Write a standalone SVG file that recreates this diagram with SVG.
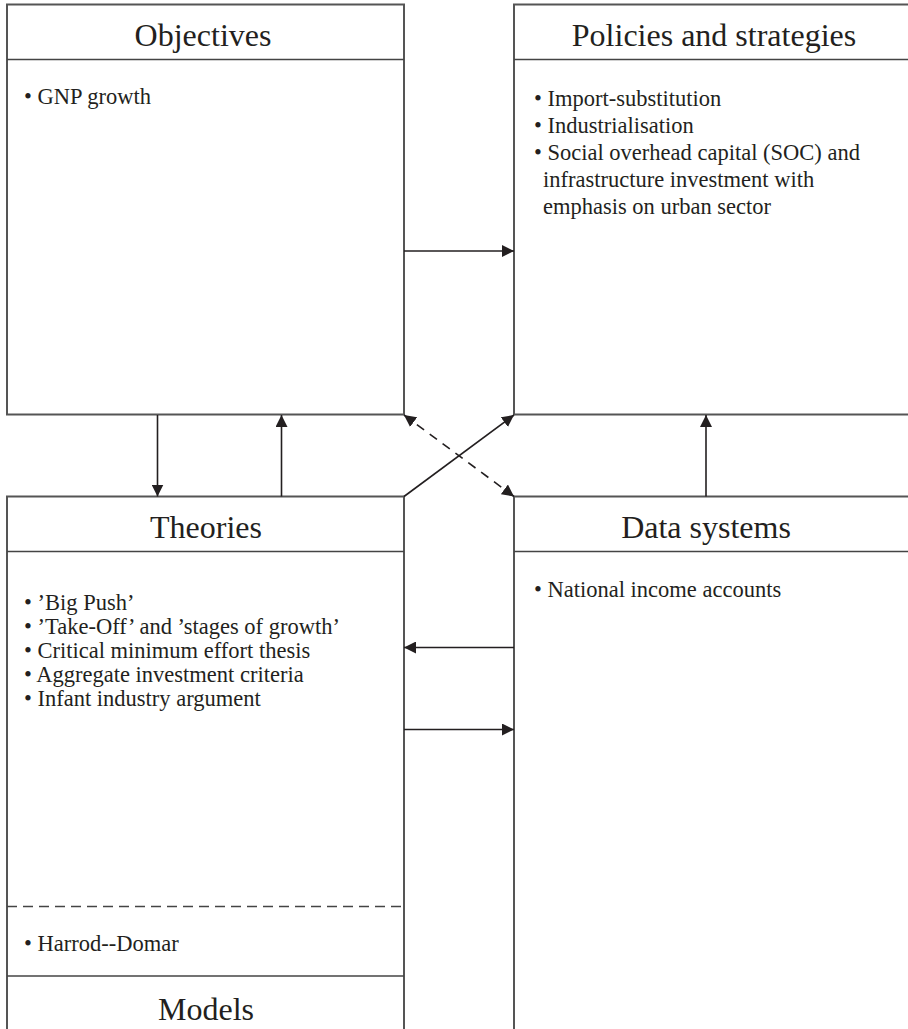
<svg xmlns="http://www.w3.org/2000/svg" width="908" height="1029" viewBox="0 0 908 1029">
  <style>
    .box { fill: none; stroke: #555; stroke-width: 2; }
    .rule { stroke: #444; stroke-width: 1.6; fill: none; }
    .dash { stroke: #444; stroke-width: 1.6; stroke-dasharray: 10 6; fill: none; }
    .title { font-family: "Liberation Serif", "Times New Roman", Times, serif; font-size: 32px; fill: #231f20; text-anchor: middle; }
    .item { font-family: "Liberation Serif", "Times New Roman", Times, serif; font-size: 22.5px; fill: #231f20; }
    .conn { stroke: #231f20; stroke-width: 1.6; fill: none; }
    .conn-dash { stroke: #231f20; stroke-width: 1.6; fill: none; stroke-dasharray: 9 7; }
  </style>
  <defs>
    <marker id="head" viewBox="0 0 12 12" refX="12" refY="6" markerWidth="12" markerHeight="12" markerUnits="userSpaceOnUse" orient="auto">
      <path d="M0,0 L12,6 L0,12 Z" fill="#231f20"/>
    </marker>
    <marker id="head-start" viewBox="0 0 12 12" refX="0" refY="6" markerWidth="12" markerHeight="12" markerUnits="userSpaceOnUse" orient="auto">
      <path d="M12,0 L0,6 L12,12 Z" fill="#231f20"/>
    </marker>
  </defs>
  <rect x="0" y="0" width="908" height="1029" fill="#ffffff"/>

  <!-- Objectives -->
  <g id="objectives">
    <rect class="box" x="7" y="4.5" width="397" height="410"/>
    <line class="rule" x1="7" y1="59.5" x2="404" y2="59.5"/>
    <text class="title" x="203" y="46">Objectives</text>
    <text class="item" x="24" y="104">• GNP growth</text>
  </g>

  <!-- Policies and strategies -->
  <g id="policies">
    <rect class="box" x="514" y="4.5" width="404" height="410"/>
    <line class="rule" x1="514" y1="59.5" x2="918" y2="59.5"/>
    <text class="title" x="714" y="46">Policies and strategies</text>
    <text class="item" x="534" y="106">• Import-substitution</text>
    <text class="item" x="534" y="133">• Industrialisation</text>
    <text class="item" x="534" y="160">• Social overhead capital (SOC) and</text>
    <text class="item" x="543" y="187">infrastructure investment with</text>
    <text class="item" x="543" y="214">emphasis on urban sector</text>
  </g>

  <!-- Theories / Models -->
  <g id="theories">
    <path class="box" d="M7,1035 L7,496.5 L404,496.5 L404,1035"/>
    <line class="rule" x1="7" y1="551.5" x2="404" y2="551.5"/>
    <text class="title" x="206" y="538">Theories</text>
    <text class="item" x="24" y="610">• ’Big Push’</text>
    <text class="item" x="24" y="634">• ’Take-Off’ and ’stages of growth’</text>
    <text class="item" x="24" y="658">• Critical minimum effort thesis</text>
    <text class="item" x="24" y="682">• Aggregate investment criteria</text>
    <text class="item" x="24" y="706">• Infant industry argument</text>
    <line class="dash" x1="7" y1="906.5" x2="404" y2="906.5"/>
    <text class="item" x="24" y="951">• Harrod--Domar</text>
    <line class="rule" x1="7" y1="976" x2="404" y2="976"/>
    <text class="title" x="206" y="1020">Models</text>
  </g>

  <!-- Data systems -->
  <g id="data-systems">
    <path class="box" d="M514,1035 L514,496.5 L918,496.5"/>
    <line class="rule" x1="514" y1="551.5" x2="918" y2="551.5"/>
    <text class="title" x="706" y="538">Data systems</text>
    <text class="item" x="534" y="597">• National income accounts</text>
  </g>

  <!-- Connectors -->
  <g id="connectors">
    <line class="conn" x1="404" y1="251" x2="514" y2="251" marker-end="url(#head)"/>
    <line class="conn" x1="157.5" y1="415" x2="157.5" y2="496.5" marker-end="url(#head)"/>
    <line class="conn" x1="281.5" y1="496.5" x2="281.5" y2="415" marker-end="url(#head)"/>
    <line class="conn" x1="706" y1="496.5" x2="706" y2="415" marker-end="url(#head)"/>
    <line class="conn" x1="404" y1="496.5" x2="514" y2="415" marker-end="url(#head)"/>
    <line class="conn-dash" x1="404" y1="415" x2="514" y2="496.5" marker-start="url(#head-start)" marker-end="url(#head)"/>
    <line class="conn" x1="514" y1="647.5" x2="404" y2="647.5" marker-end="url(#head)"/>
    <line class="conn" x1="404" y1="729.5" x2="514" y2="729.5" marker-end="url(#head)"/>
  </g>
</svg>
